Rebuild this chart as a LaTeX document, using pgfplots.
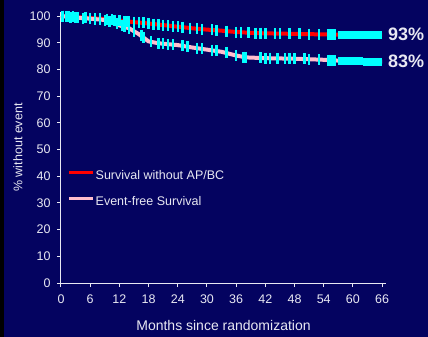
\documentclass[border=0pt]{standalone}
\usepackage{fontspec}
\setmainfont{Liberation Sans}
\usepackage{pgfplots}
\pgfplotsset{compat=1.18}
\definecolor{bgnavy}{RGB}{4,3,96}
\definecolor{txt}{RGB}{232,232,242}
\definecolor{pinkc}{RGB}{255,190,205}
\definecolor{redc}{RGB}{255,0,0}
\definecolor{cyanc}{RGB}{0,255,255}
\begin{document}
\begin{tikzpicture}
\fill[bgnavy] (0,0) rectangle (428bp,337bp);
\fill[black] (0,0) rectangle (4bp,337bp);
\begin{axis}[
  at={(61bp,54bp)}, anchor=south west,
  scale only axis, width=325bp, height=271bp,
  xmin=0, xmax=66.8, ymin=0, ymax=101.5,
  axis x line*=bottom, axis y line*=left,
  axis line style={txt, line width=1bp, -},
  xtick={0,6,...,66}, ytick={0,10,...,100},
  tick align=outside, major tick length=4bp,
  tick style={txt, line width=1bp},
  /pgf/number format/assume math mode=true,
  ticklabel style={font=\fontsize{12.5bp}{14bp}\selectfont, text=txt},
  xticklabel style={yshift=-4bp},
  yticklabel style={xshift=-3bp},
  xlabel={Months since randomization},
  ylabel={\% without event},
  every axis x label/.style={at={(axis description cs:0.5,0)}, anchor=center, yshift=-42bp, font=\fontsize{14bp}{16bp}\selectfont, text=txt},
  every axis y label/.style={at={(axis description cs:-0.1323,0.5)}, rotate=90, anchor=center, font=\fontsize{12.5bp}{14bp}\selectfont, text=txt},
  clip=false,
  legend image code/.code={\draw[#1, line width=3bp] (0bp,3.5bp) -- (24bp,3.5bp);},
  legend style={at={(axis description cs:0.02,0.42)}, anchor=north west, draw=none, fill=none,
    font=\fontsize{12.5bp}{14bp}\selectfont, text=txt, inner sep=0pt, row sep=12bp,
    nodes={inner sep=1bp, text height=9bp, text depth=3bp}},
  legend cell align=left,
]
\addplot[redc, line width=4bp] coordinates {
(0,100)(3,99.6)(6,99.2)(9,98.9)(12,98.3)(15,97.7)(18,97.2)(21,96.6)(24,96.0)(27,95.4)(30,94.9)(33,94.5)(36,94.0)(39,93.7)(42,93.5)(48,93.3)(54,93.1)(60,92.9)(66,92.9)};
\addlegendentry{Survival without AP/BC}
\addplot[pinkc, line width=4bp] coordinates {
(0,100)(3,99.4)(6,99.0)(9,98.5)(12,96.5)(14,95.4)(16,93.2)(18,90.5)(20,89.8)(24,89.1)(27,88.2)(30,87.4)(33,86.6)(36,85.2)(38,84.5)(42,84.2)(48,84.0)(54,83.6)(58,83.2)(60,83.0)(66,82.9)};
\addlegendentry{Event-free Survival}
% censoring marks
\addplot[forget plot, only marks, mark=|, mark size=5.5bp, cyanc, line width=2.5bp] coordinates {
(0.3,100)(1,99.9)(1.5,99.8)(2.5,99.7)(3.5,99.5)(5,99.3)(6,99.2)(7,99.1)(8,99.0)(9.5,98.8)(10.5,98.6)(11,98.5)(12,98.3)(13,98.1)(13.5,98.0)(14,97.9)(15,97.7)(16,97.5)(17,97.4)(18,97.2)(19,97.0)(20,96.8)(21,96.6)(22,96.4)(23,96.2)(24,96.0)(25,95.8)(26.5,95.5)(28,95.2)(29,95.1)(31,94.8)(32,94.6)(34,94.3)(36,94.0)(37,93.9)(38.5,93.8)(40,93.6)(41,93.6)(42,93.5)(44,93.4)(45,93.4)(47,93.3)(49,93.3)(51,93.2)(53,93.1)(55,93.1)(55.6,93.0)(56.2,93.0)};
\addplot[forget plot, only marks, mark=|, mark size=5.5bp, cyanc, line width=2.5bp] coordinates {
(0.3,100)(1,99.8)(2,99.6)(3,99.4)(4.5,99.2)(6,99.0)(7,98.8)(8,98.7)(9,98.5)(10,98.1)(11.5,97.2)(12.5,96.3)(13,96.0)(14,95.4)(15,94.3)(16.5,92.8)(17,92.0)(18.5,90.4)(20,89.8)(21,89.6)(22,89.4)(23,89.3)(25,88.9)(26,88.6)(28,88.0)(29,87.7)(31,87.2)(32,86.9)(34,86.4)(36,85.2)(37.5,84.6)(38,84.5)(41,84.3)(42,84.2)(43,84.2)(44.5,84.1)(46,84.0)(47,84.0)(48,84.0)(50,83.9)(51,83.8)(53,83.7)(55,83.5)(55.6,83.3)(56.2,83.2)};
\addplot[forget plot, cyanc, line width=8bp] coordinates {(57,93.0)(66,93.0)};
\addplot[forget plot, cyanc, line width=8bp] coordinates {(57,83.1)(62,83.1)};
\addplot[forget plot, cyanc, line width=8bp] coordinates {(62,82.8)(66,82.8)};
\node[anchor=west, text=txt, font=\bfseries\fontsize{18bp}{20bp}\selectfont, inner sep=0pt] at (axis cs:67.2,93) {93\%};
\node[anchor=west, text=txt, font=\bfseries\fontsize{18bp}{20bp}\selectfont, inner sep=0pt] at (axis cs:67.2,83) {83\%};
\end{axis}
\end{tikzpicture}
\end{document}
